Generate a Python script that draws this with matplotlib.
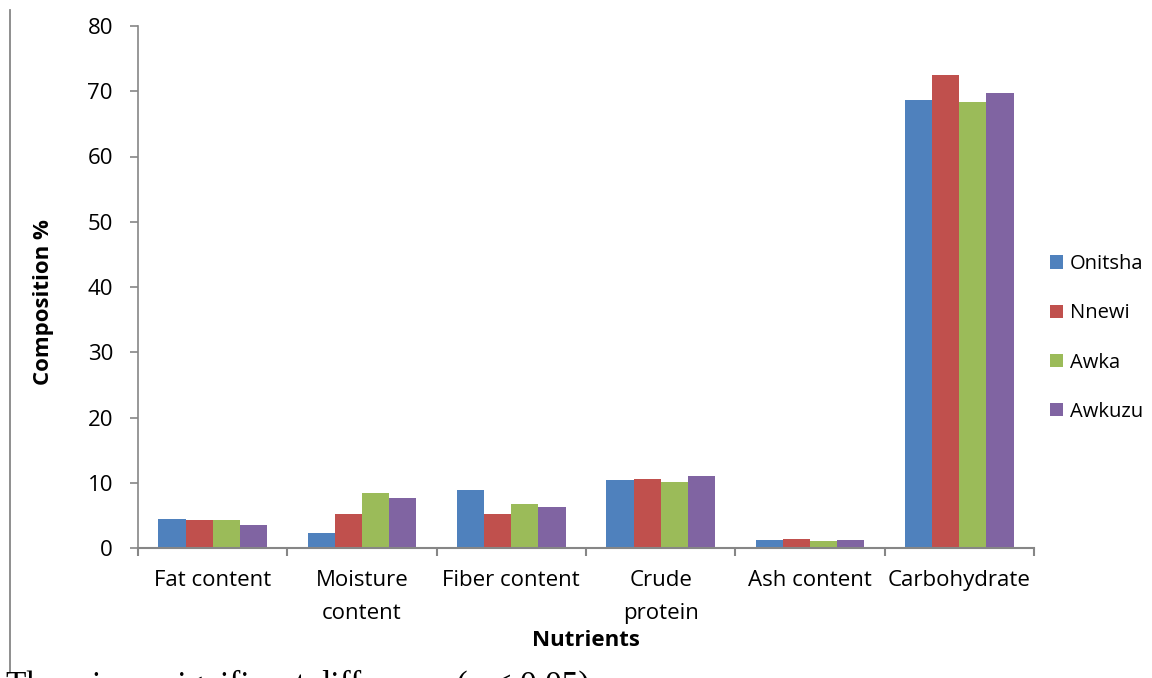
import numpy as np
import matplotlib
import matplotlib.pyplot as plt
from matplotlib.lines import Line2D
from matplotlib.patches import Patch

matplotlib.use("Agg")

plt.rcParams["font.family"] = ["Open Sans", "DejaVu Sans"]

nutrients = ["Fat content", "Moisture\ncontent", "Fiber content", "Crude\nprotein",
             "Ash content", "Carbohydrate"]
sites = ["Onitsha", "Nnewi", "Awka", "Awkuzu"]

onitsha = [4.5, 2.3, 8.95, 10.45, 1.17, 68.65]
nnewi = [4.35, 5.25, 5.25, 10.65, 1.38, 72.5]
awka = [4.35, 8.5, 6.8, 10.15, 1.12, 68.35]
awkuzu = [3.45, 7.7, 6.35, 11.1, 1.23, 69.75]

series = [onitsha, nnewi, awka, awkuzu]
colors = ["#4F81BD", "#C0504D", "#9BBB59", "#8064A2"]
axis_grey = "#868686"
fs = 16

fig = plt.figure(figsize=(11.52, 6.78), dpi=100)
ax = fig.add_axes([138 / 1152, 1 - 548 / 678, (1034 - 138) / 1152, (548 - 26) / 678])

x = np.arange(len(nutrients))
width = 1 / 5.5
for i, (vals, c) in enumerate(zip(series, colors)):
    ax.bar(x + (i - 1.5) * width, vals, width, color=c, label=sites[i], zorder=2)

ax.set_xlim(-0.5, len(nutrients) - 0.5)
ax.set_ylim(0, 80)
ax.set_yticks(np.arange(0, 81, 10))

# category labels sit between the boundary ticks
ax.set_xticks(np.arange(-0.5, len(nutrients)), minor=False)
ax.set_xticklabels([])
ax.set_xticks(x, minor=True)
ax.set_xticklabels(nutrients, minor=True, fontsize=fs, linespacing=1.75,
                   va="top")
ax.tick_params(axis="x", which="minor", length=0, pad=16)
ax.tick_params(axis="x", which="major", length=6, width=1.5, color=axis_grey)
ax.tick_params(axis="y", length=6, width=1.2, color=axis_grey, labelsize=fs, pad=12)

for s in ["top", "right"]:
    ax.spines[s].set_visible(False)
ax.spines["left"].set_color(axis_grey)
ax.spines["bottom"].set_color(axis_grey)
ax.spines["left"].set_linewidth(1.2)
ax.spines["bottom"].set_linewidth(1.5)

ax.set_xlabel("Nutrients", fontsize=fs, fontweight="bold")
ax.xaxis.set_label_coords(0.5, (548 - 640) / 522)
ax.xaxis.label.set_va("center")
ax.set_ylabel("Composition %", fontsize=fs, fontweight="bold")
ax.yaxis.set_label_coords((44 - 138) / 896, (548 - 302) / 522)
ax.yaxis.label.set_va("center")

handles = [Patch(facecolor=c, edgecolor="none") for c in colors]
fig.legend(handles, sites, loc="center left", bbox_to_anchor=(1040 / 1152, 1 - 338 / 678),
           frameon=False, fontsize=14.5, handlelength=0.65, handleheight=0.65,
           handletextpad=0.35, labelspacing=1.45, borderpad=0)

# page border line and the note beneath the chart
fig.add_artist(Line2D([10 / 1152, 10 / 1152], [1 - 672 / 678, 1 - 10 / 678],
                      transform=fig.transFigure, color=axis_grey, linewidth=1.3))
fig.text(6 / 1152, 1 - 670 / 678, "There is no significant difference (p < 0.05)",
         family="Liberation Serif", fontsize=24, va="top", ha="left")

fig.savefig("out.png", dpi=100)
